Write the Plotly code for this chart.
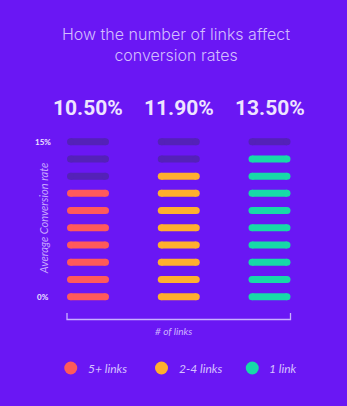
import plotly.graph_objects as go

# ---- data ----
title_text = "How the number of links affect<br>conversion rates"
categories = ["5+ links", "2-4 links", "1 link"]
rates = [10.50, 11.90, 13.50]          # average conversion rate (%)
segment_step = 1.5                      # % per segment
n_segments = 10                         # 0% .. 15%
y_tick_labels = ["0%", "15%"]
y_title = "Average Conversion rate"
x_title = "# of links"

# ---- style ----
colors = ["#FF5A5A", "#FFAF2E", "#17D9A8"]
BG = "#6A17F4"
DIM = "#5421B8"
TEXT = "#D6C2FF"
TEXT_BRIGHT = "#EEE4FF"
W, H = 347, 406

# axis scaling (pixels per data unit)
px_x = 90.75
px_y = 17.22
x_lo = -88 / px_x
x_range = [x_lo, x_lo + W / px_x]
y_hi = (n_segments - 1) + 141.7 / px_y
y_range = [y_hi - H / px_y, y_hi]


def ydata(py):
    return y_hi - py / px_y


def xdata(px):
    return x_lo + px / px_x


half = 17.5 / px_x  # half-length of pill line (caps added by markers)

fig = go.Figure()

for i, (cat, rate, col) in enumerate(zip(categories, rates, colors)):
    n_fill = round(rate / segment_step)
    for filled, c in ((False, DIM), (True, col)):
        xs, ys = [], []
        for r in range(n_segments):
            if (r < n_fill) == filled:
                xs += [i - half, i + half, None]
                ys += [r, r, None]
        fig.add_trace(go.Scatter(
            x=xs, y=ys, mode="lines+markers",
            line=dict(color=c, width=7),
            marker=dict(color=c, size=7, line=dict(width=0)),
            hoverinfo="skip", showlegend=False))
    # big percentage value
    fig.add_annotation(x=i, y=ydata(108), xref="x", yref="y", yanchor="middle",
                       text=f"{rate:.2f}%", showarrow=False,
                       font=dict(family="Roboto", size=21, color=TEXT_BRIGHT, weight=700))

# bracket under columns
bx0 = 0 - half - 3.5 / px_x
bx1 = (len(categories) - 1) + half + 3.5 / px_x
fig.add_trace(go.Scatter(
    x=[bx0, bx0, bx1, bx1], y=[ydata(313), ydata(319.5), ydata(319.5), ydata(313)],
    mode="lines", line=dict(color="#C9B0FF", width=1.3),
    hoverinfo="skip", showlegend=False))

# legend
leg_y = ydata(368)
for i, (cat, col) in enumerate(zip(categories, colors)):
    lx = i - 0.19
    fig.add_trace(go.Scatter(
        x=[lx], y=[leg_y], mode="markers",
        marker=dict(color=col, size=13, line=dict(width=0)),
        hoverinfo="skip", showlegend=False))
    fig.add_annotation(x=lx + 15 / px_x, y=leg_y, xref="x", yref="y",
                       text=cat, showarrow=False, xanchor="left", yanchor="middle",
                       font=dict(family="Lato", size=12, color=TEXT, style="italic"))

# y tick labels
fig.add_annotation(x=xdata(43), y=0, text=y_tick_labels[0], showarrow=False,
                   yanchor="middle",
                   font=dict(family="Lato", size=8, color=TEXT_BRIGHT, weight=700))
fig.add_annotation(x=xdata(43), y=n_segments - 1, text=y_tick_labels[1], showarrow=False,
                   yanchor="middle",
                   font=dict(family="Lato", size=8, color=TEXT_BRIGHT, weight=700))
fig.add_annotation(x=xdata(43), y=(n_segments - 1) / 2, text=y_title, showarrow=False,
                   textangle=-90, yanchor="middle",
                   font=dict(family="Lato", size=11, color="#C7A6FF", style="italic"))

# x title
fig.add_annotation(x=xdata(173), y=ydata(331), text=x_title,
                   showarrow=False, yanchor="middle",
                   font=dict(family="Lato", size=10, color="#CDB5FF", style="italic"))

# title
fig.add_annotation(x=xdata(176), y=ydata(44.5), text=title_text,
                   showarrow=False, yanchor="middle",
                   font=dict(family="Inter", size=16, color="#D3BDFF", weight=300))

fig.update_layout(
    width=W, height=H, margin=dict(l=0, r=0, t=0, b=0),
    paper_bgcolor=BG, plot_bgcolor=BG,
    xaxis=dict(range=x_range, visible=False, fixedrange=True),
    yaxis=dict(range=y_range, visible=False, fixedrange=True),
    showlegend=False,
)

fig.write_html("out.html")
